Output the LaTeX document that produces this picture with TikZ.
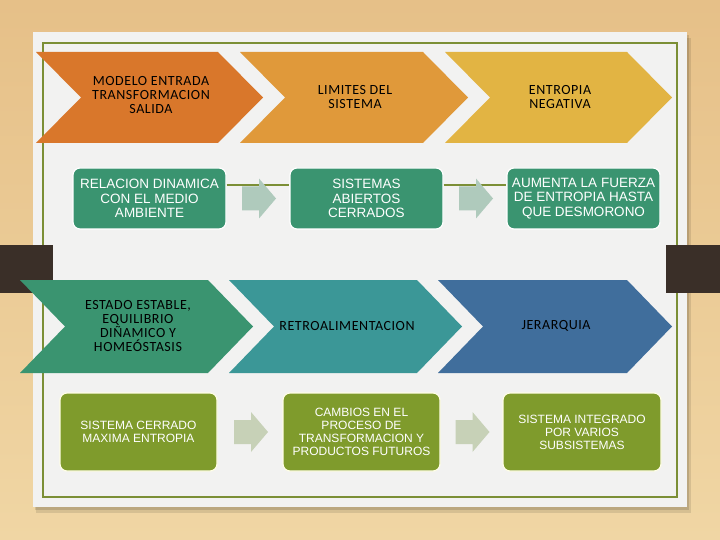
\documentclass[tikz,border=0pt]{standalone}
\usepackage{fontspec}
\setmainfont{Carlito}[LetterSpace=4]
\newfontfamily\boxfont{Liberation Sans}
\usetikzlibrary{calc}
\definecolor{bgtop}{HTML}{E6C088}
\definecolor{bgbot}{HTML}{F0D6A4}
\definecolor{card}{HTML}{F2F2F1}
\definecolor{frame}{HTML}{7C8F36}
\definecolor{tab}{HTML}{3A2F28}
\definecolor{chA}{HTML}{D9772B}
\definecolor{chB}{HTML}{E0993A}
\definecolor{chC}{HTML}{E2B443}
\definecolor{chD}{HTML}{3A9470}
\definecolor{chE}{HTML}{3B9797}
\definecolor{chF}{HTML}{406E9C}
\definecolor{boxG}{HTML}{3A9470}
\definecolor{boxO}{HTML}{7F9B2C}
\definecolor{arrG}{HTML}{AFCABC}
\definecolor{arrO}{HTML}{C7D1B7}
\newcommand\chevpath[6]{%
  \fill[#6] (#1,#2) -- ++({#3-#5},0) -- ++(#5,{#4/2}) -- ++(-#5,{#4/2})
    -- ++({-(#3-#5)},0) -- ++(#5,{-#4/2}) -- cycle;}
\newcommand\blockarr[2]{%
  \fill[#2] ($(#1)+(-17,-12)$) -- ($(#1)+(0,-12)$) -- ($(#1)+(0,-20)$)
    -- ($(#1)+(17,0)$) -- ($(#1)+(0,20)$) -- ($(#1)+(0,12)$)
    -- ($(#1)+(-17,12)$) -- cycle;}
\tikzset{
  chtext/.style={font=\fontsize{14}{14}\selectfont, align=center, text=black, inner sep=0pt},
  boxA/.style={draw=white, line width=1.2pt, rounded corners=7pt, fill=boxG,
    minimum width=153pt, minimum height=61pt, text=white, align=center, inner sep=0pt,
    font=\boxfont\fontsize{13.5}{14.5}\selectfont},
  boxB/.style={draw=white!90!yellow, line width=1.2pt, rounded corners=7pt, fill=boxO,
    minimum width=157pt, minimum height=78pt, text=white, align=center, inner sep=0pt,
    font=\boxfont\fontsize{12}{13}\selectfont},
  linkline/.style={draw=frame, line width=2pt}
}
\begin{document}
\begin{tikzpicture}[x=1pt,y=-1pt]
\useasboundingbox (0,0) rectangle (720,540);
\shade[top color=bgtop, bottom color=bgbot] (0,0) rectangle (720,540);
% card shadow
\fill[black, opacity=0.10] (36,38) rectangle (691,513);
\fill[black, opacity=0.12] (35,35) rectangle (689,510);
\fill[card] (33,32) rectangle (687,507);
\draw[frame, line width=1.8pt] (43,43) rectangle (677,497);
% tabs
\fill[tab] (0,245) rectangle (53,293);
\fill[tab] (666,245) rectangle (720,293);
% chevrons row 1
\chevpath{36}{52}{227}{91}{45}{chA}
\chevpath{240}{52}{228}{91}{45}{chB}
\chevpath{445}{52}{227}{91}{45}{chC}
% chevrons row 2
\chevpath{20}{280}{233}{93}{45}{chD}
\chevpath{229}{280}{233}{93}{45}{chE}
\chevpath{438}{280}{234}{93}{45}{chF}
% chevron texts
\node[chtext] (c1) at (151,95) {MODELO ENTRADA\\TRANSFORMACION\\SALIDA};
\node[chtext] (c2) at (355,97) {LIMITES DEL\\SISTEMA};
\node[chtext] (c3) at (560,97) {ENTROPIA\\NEGATIVA};
\node[chtext] (c4) at (138,326) {ESTADO ESTABLE,\\EQUILIBRIO\\DIÑAMICO Y\\HOMEÓSTASIS};
\node[chtext] (c5) at (347,326) {RETROALIMENTACION};
\node[chtext] (c6) at (556,326) {JERARQUIA};
% boxes row 1
\node[boxA] (b1) at (149.5,198.5) {RELACION DINAMICA\\CON EL MEDIO\\AMBIENTE};
\node[boxA] (b2) at (366.5,198.5) {SISTEMAS\\ABIERTOS\\CERRADOS};
\node[boxA] (b3) at (583.5,198.5) {AUMENTA LA FUERZA\\DE ENTROPIA HASTA\\QUE DESMORONO};
% boxes row 2
\node[boxB] (b4) at (138.5,432) {SISTEMA CERRADO\\MAXIMA ENTROPIA};
\node[boxB] (b5) at (361.5,432) {CAMBIOS EN EL\\PROCESO DE\\TRANSFORMACION Y\\PRODUCTOS FUTUROS};
\node[boxB, minimum width=158pt] (b6) at (582,432) {SISTEMA INTEGRADO\\POR VARIOS\\SUBSISTEMAS};
% link lines row 1
\draw[linkline] ([yshift=13.5pt]b1.east) -- ([yshift=13.5pt]b2.west);
\draw[linkline] ([yshift=13.5pt]b2.east) -- ([yshift=13.5pt]b3.west);
% block arrows
\coordinate (a1) at ($(b1.east)!0.5!(b2.west)+(1,0)$);
\coordinate (a2) at ($(b2.east)!0.5!(b3.west)+(1,0)$);
\coordinate (a3) at ($(b4.east)!0.5!(b5.west)+(1,0)$);
\coordinate (a4) at ($(b5.east)!0.5!(b6.west)+(1,0)$);
\blockarr{a1}{arrG}
\blockarr{a2}{arrG}
\blockarr{a3}{arrO}
\blockarr{a4}{arrO}
\end{tikzpicture}
\end{document}
